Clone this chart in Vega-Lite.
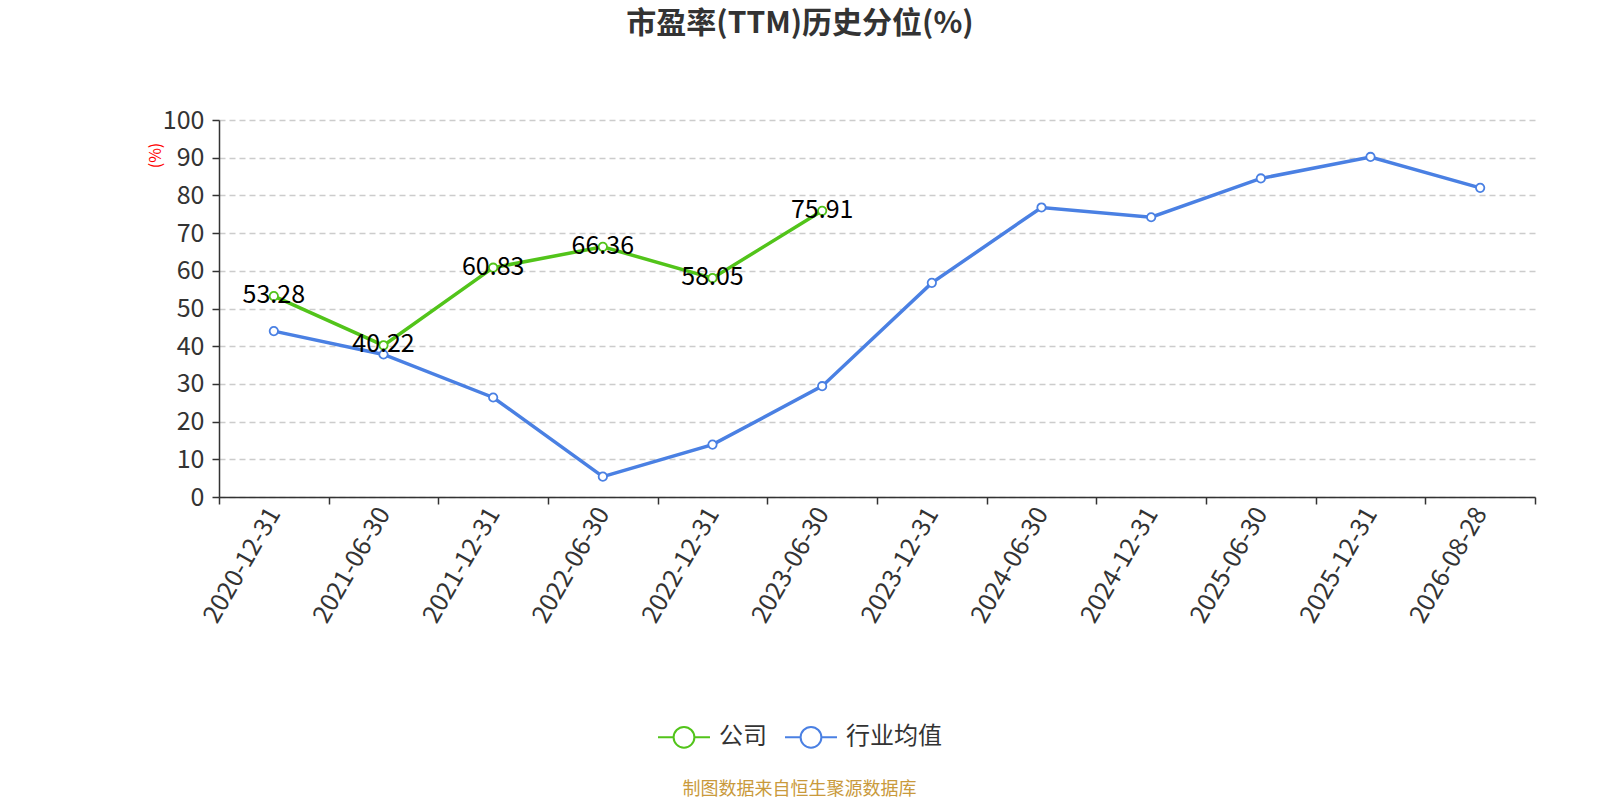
{
  "$schema": "https://vega.github.io/schema/vega-lite/v6.json",
  "width": 1316,
  "height": 377,
  "autosize": {"type": "none"},
  "padding": {"left": 219, "top": 120, "right": 65, "bottom": 303},
  "background": "white",
  "config": {
    "font": "Noto Sans CJK SC",
    "view": {"stroke": null}
  },
  "title": {
    "text": "市盈率(TTM)历史分位(%)",
    "fontSize": 30,
    "fontWeight": "bold",
    "color": "#333333",
    "anchor": "middle",
    "frame": "group",
    "dx": -77,
    "baseline": "bottom",
    "offset": 39
  },
  "data": {
    "values": [
      {"date": "2020-12-31", "series": "公司", "value": 53.28},
      {"date": "2021-06-30", "series": "公司", "value": 40.22},
      {"date": "2021-12-31", "series": "公司", "value": 60.83},
      {"date": "2022-06-30", "series": "公司", "value": 66.36},
      {"date": "2022-12-31", "series": "公司", "value": 58.05},
      {"date": "2023-06-30", "series": "公司", "value": 75.91},
      {"date": "2020-12-31", "series": "行业均值", "value": 44.0},
      {"date": "2021-06-30", "series": "行业均值", "value": 37.8},
      {"date": "2021-12-31", "series": "行业均值", "value": 26.4},
      {"date": "2022-06-30", "series": "行业均值", "value": 5.4},
      {"date": "2022-12-31", "series": "行业均值", "value": 13.9},
      {"date": "2023-06-30", "series": "行业均值", "value": 29.4},
      {"date": "2023-12-31", "series": "行业均值", "value": 56.8},
      {"date": "2024-06-30", "series": "行业均值", "value": 76.8},
      {"date": "2024-12-31", "series": "行业均值", "value": 74.2},
      {"date": "2025-06-30", "series": "行业均值", "value": 84.5},
      {"date": "2025-12-31", "series": "行业均值", "value": 90.2},
      {"date": "2026-08-28", "series": "行业均值", "value": 82.0}
    ]
  },
  "encoding": {
    "x": {
      "field": "date",
      "type": "ordinal",
      "sort": null,
      "scale": {"type": "band", "paddingInner": 0, "paddingOuter": 0},
      "axis": {
        "title": "制图数据来自恒生聚源数据库",
        "titleColor": "#c99a3c",
        "titleFontSize": 18,
        "titleFontWeight": "normal",
        "titleX": 580,
        "titleY": 292,
        "titleBaseline": "middle",
        "titleAlign": "center",
        "labelAngle": -60,
        "labelAlign": "right",
        "labelBaseline": "middle",
        "labelFontSize": 25,
        "labelColor": "#333333",
        "labelPadding": 5,
        "tickBand": "extent",
        "tickSize": 7,
        "tickColor": "#333333",
        "tickWidth": 1.5,
        "domainColor": "#333333",
        "domainWidth": 1.5,
        "grid": false
      }
    },
    "y": {
      "field": "value",
      "type": "quantitative",
      "scale": {"domain": [0, 100], "nice": false},
      "axis": {
        "title": "(%)",
        "titleColor": "red",
        "titleFontSize": 16,
        "titleFontWeight": "normal",
        "titleAngle": -90,
        "titleX": -64,
        "titleY": 35,
        "titleAlign": "center",
        "titleBaseline": "middle",
        "values": [0, 10, 20, 30, 40, 50, 60, 70, 80, 90, 100],
        "labelFontSize": 25,
        "labelColor": "#333333",
        "labelPadding": 8,
        "tickSize": 7,
        "tickColor": "#333333",
        "tickWidth": 1.5,
        "domainColor": "#333333",
        "domainWidth": 1.5,
        "grid": true,
        "gridColor": "#cccccc",
        "gridDash": [6, 4],
        "gridWidth": 1.3
      }
    }
  },
  "layer": [
    {
      "mark": {"type": "line", "strokeWidth": 3.5},
      "encoding": {
        "color": {
          "field": "series",
          "type": "nominal",
          "scale": {"domain": ["公司", "行业均值"], "range": ["#52c41a", "#4a80e3"]},
          "legend": {
            "title": null,
            "orient": "none",
            "direction": "horizontal",
            "legendX": 438,
            "legendY": 590,
            "symbolType": "M-1,0L-0.4,0M0.4,0L1,0M0.4,0A0.4,0.4,0,1,1,-0.4,0A0.4,0.4,0,1,1,0.4,0",
            "symbolSize": 2700,
            "symbolStrokeWidth": 2,
            "symbolFillColor": "white",
            "labelFontSize": 24,
            "labelColor": "#333333",
            "labelOffset": 8,
            "columnPadding": 14
          }
        }
      }
    },
    {
      "mark": {"type": "point", "shape": "circle", "size": 70, "fill": "white", "filled": true, "strokeWidth": 1.8, "opacity": 1},
      "encoding": {
        "stroke": {
          "field": "series",
          "type": "nominal",
          "scale": {"domain": ["公司", "行业均值"], "range": ["#52c41a", "#4a80e3"]},
          "legend": null
        }
      }
    },
    {
      "transform": [{"filter": "datum.series === '公司'"}],
      "mark": {"type": "text", "fontSize": 25, "color": "black", "baseline": "middle", "align": "center", "dy": -1},
      "encoding": {
        "text": {"field": "value", "type": "quantitative", "format": ".2f"}
      }
    }
  ]
}
